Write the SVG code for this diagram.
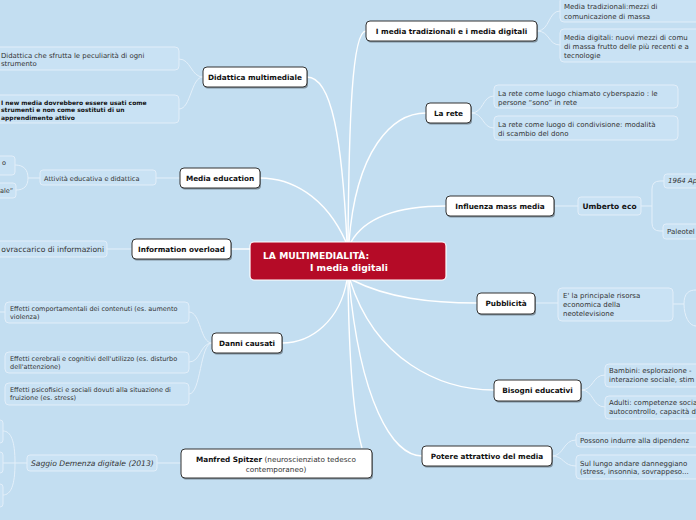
<svg xmlns="http://www.w3.org/2000/svg" width="696" height="520" viewBox="0 0 696 520">
<style>
.bg{fill:#c3def1}
.c{fill:none;stroke:#fff;stroke-width:1.4}
.cs{fill:none;stroke:#e4f0fa;stroke-width:1}
.mn{fill:#fff;stroke:#333;stroke-width:1}
.sh{fill:#000;opacity:.35}
.sb{fill:#c9e2f4;stroke:#e2eef9;stroke-width:1}
.mt{font-family:"DejaVu Sans",Verdana,sans-serif;font-size:7.3px;font-weight:bold;fill:#111;text-anchor:middle}
.st{font-family:"DejaVu Sans",Verdana,sans-serif;font-size:7px;fill:#333}
.sl{font-family:"DejaVu Sans",Verdana,sans-serif;font-size:6.5px;fill:#333}
.sbl{font-family:"DejaVu Sans",Verdana,sans-serif;font-size:6px;font-weight:bold;fill:#111}
.ct{font-family:"DejaVu Sans",Verdana,sans-serif;font-size:9.2px;font-weight:bold;fill:#fff}
</style>
<rect class="bg" x="0" y="0" width="696" height="520"/>
<g id="connectors">
<path class="c" d="M348,242 C349,120 352,31 366,31"/>
<path class="c" d="M349,242 C356,150 392,113 426,113"/>
<path class="c" d="M351,242 C368,212 410,206 446,206"/>
<path class="c" d="M347,242 C342,140 332,77 307,77"/>
<path class="c" d="M346,242 C325,195 290,178 260,178"/>
<path class="c" d="M250,249 L231,249"/>
<path class="c" d="M347,280 C340,320 312,343 282,343"/>
<path class="c" d="M348,280 C349,360 354,420 362,448"/>
<path class="c" d="M349,280 C360,400 392,456 422,456"/>
<path class="c" d="M350,280 C375,360 440,390 494,390"/>
<path class="c" d="M352,280 C388,298 430,303 477,303"/>
<path class="cs" d="M537,31 C550,31 548,11 560,11 M537,31 C550,31 548,45 560,45"/>
<path class="cs" d="M471,113 C484,113 482,96 494,96 M471,113 C484,113 482,128 494,128"/>
<path class="cs" d="M554,206 H578"/>
<path class="cs" d="M641,206 H652 M652,206 V189 Q652,181 660,181 H664 M652,206 V223 Q652,231 660,231 H663"/>
<path class="cs" d="M535,303 H558"/>
<path class="cs" d="M673,304 H684 M684,304 C684,293 689,290 696,290 M684,304 C684,316 689,326 696,326"/>
<path class="cs" d="M581,390 C594,390 592,375 605,375 M581,390 C594,390 592,407 605,407"/>
<path class="cs" d="M552,456 C564,456 563,440 576,440 M552,456 C564,456 563,466 576,466"/>
<path class="cs" d="M181,463 H157"/>
<path class="cs" d="M27,463 H15 M15,463 C15,441 11,431 3,431 M15,463 C15,485 11,495 3,495 M15,463 H3"/>
<path class="cs" d="M212,343 C200,343 201,312 189,312 M212,343 C200,343 201,362 189,362 M212,343 C200,343 201,394 189,394"/>
<path class="cs" d="M5,312 H0"/>
<path class="cs" d="M132,249 H107"/>
<path class="cs" d="M180,178 H156"/>
<path class="cs" d="M40,178 H28 M28,178 C28,170 24,165 15,165 M28,178 C28,186 24,190 16,190"/>
<path class="cs" d="M203,77 C191,77 191,59 179,59 M203,77 C191,77 191,109 179,109"/>
</g>
<g id="center">
<rect x="250" y="242" width="196" height="38" rx="4" fill="#b50b27" stroke="#fff" stroke-width="1.2"/>
<text class="ct" x="263" y="259">LA MULTIMEDIALITÀ:</text>
<text class="ct" x="310" y="271">I media digitali</text>
</g>
<g id="n-media">
<rect class="sh" x="367" y="22.5" width="171" height="20" rx="4"/>
<rect class="mn" x="366" y="21" width="171" height="20" rx="4"/>
<text class="mt" x="451.5" y="34">I media tradizionali e i media digitali</text>
</g>
<g id="n-rete">
<rect class="sh" x="427" y="104.5" width="45" height="20" rx="4"/>
<rect class="mn" x="426" y="103" width="45" height="20" rx="4"/>
<text class="mt" x="448.5" y="116">La rete</text>
</g>
<g id="n-influenza">
<rect class="sh" x="447" y="197.5" width="108" height="20" rx="4"/>
<rect class="mn" x="446" y="196" width="108" height="20" rx="4"/>
<text class="mt" x="500" y="209">Influenza mass media</text>
</g>
<g id="n-pubblicita">
<rect class="sh" x="478" y="294.5" width="58" height="21" rx="4"/>
<rect class="mn" x="477" y="293" width="58" height="21" rx="4"/>
<text class="mt" x="506" y="306">Pubblicità</text>
</g>
<g id="n-bisogni">
<rect class="sh" x="495" y="381.5" width="87" height="21" rx="4"/>
<rect class="mn" x="494" y="380" width="87" height="21" rx="4"/>
<text class="mt" x="537.5" y="393">Bisogni educativi</text>
</g>
<g id="n-potere">
<rect class="sh" x="423" y="447.5" width="130" height="20" rx="4"/>
<rect class="mn" x="422" y="446" width="130" height="20" rx="4"/>
<text class="mt" x="487" y="459">Potere attrattivo del media</text>
</g>
<g id="n-spitzer">
<rect class="sh" x="182" y="450.5" width="191" height="29" rx="4"/>
<rect class="mn" x="181" y="449" width="191" height="29" rx="4"/>
<text class="mt" x="276" y="462"><tspan>Manfred Spitzer</tspan><tspan style="font-weight:normal;fill:#333"> (neuroscienziato tedesco</tspan></text>
<text class="mt" x="276" y="471.5" style="font-weight:normal;fill:#333">contemporaneo)</text>
</g>
<g id="n-danni">
<rect class="sh" x="213" y="334.5" width="70" height="20" rx="4"/>
<rect class="mn" x="212" y="333" width="70" height="20" rx="4"/>
<text class="mt" x="247" y="346">Danni causati</text>
</g>
<g id="n-info">
<rect class="sh" x="133" y="240.5" width="99" height="20" rx="4"/>
<rect class="mn" x="132" y="239" width="99" height="20" rx="4"/>
<text class="mt" x="181.5" y="252">Information overload</text>
</g>
<g id="n-mediaed">
<rect class="sh" x="181" y="169.5" width="80" height="20" rx="4"/>
<rect class="mn" x="180" y="168" width="80" height="20" rx="4"/>
<text class="mt" x="220" y="181">Media education</text>
</g>
<g id="n-didattica">
<rect class="sh" x="204" y="68.5" width="104" height="20" rx="4"/>
<rect class="mn" x="203" y="67" width="104" height="20" rx="4"/>
<text class="mt" x="255" y="80">Didattica multimediale</text>
</g>
<g id="s-media1">
<rect class="sb" x="560" y="-3" width="150" height="25" rx="4"/>
<text class="st" x="564" y="9">Media tradizionali:mezzi di</text>
<text class="st" x="564" y="18.5">comunicazione di massa</text>
</g>
<g id="s-media2">
<rect class="sb" x="560" y="29" width="150" height="33" rx="4"/>
<text class="st" x="564" y="39.5">Media digitali: nuovi mezzi di comu</text>
<text class="st" x="564" y="48.5">di massa frutto delle più recenti e a</text>
<text class="st" x="564" y="57.5">tecnologie</text>
</g>
<g id="s-rete1">
<rect class="sb" x="494" y="85" width="184" height="23" rx="4"/>
<text class="st" x="498" y="95.5">La rete come luogo chiamato cyberspazio : le</text>
<text class="st" x="498" y="105">persone “sono” in rete</text>
</g>
<g id="s-rete2">
<rect class="sb" x="494" y="116" width="184" height="24" rx="4"/>
<text class="st" x="498" y="126.5">La rete come luogo di condivisione: modalità</text>
<text class="st" x="498" y="135.5">di scambio del dono</text>
</g>
<g id="s-eco">
<rect class="sb" x="578" y="197" width="63" height="18" rx="3"/>
<text class="mt" x="609.5" y="209" style="font-size:7.5px">Umberto eco</text>
</g>
<g id="s-1964">
<rect class="sb" x="664" y="174" width="40" height="14" rx="3"/>
<text class="st" x="668" y="183" style="font-style:italic">1964 Ap</text>
</g>
<g id="s-paleo">
<rect class="sb" x="663" y="224" width="40" height="15" rx="3"/>
<text class="st" x="667" y="234">Paleotel</text>
</g>
<g id="s-pubb">
<rect class="sb" x="558" y="288" width="115" height="33" rx="4"/>
<text class="st" x="563" y="298">E' la principale risorsa</text>
<text class="st" x="563" y="307">economica della</text>
<text class="st" x="563" y="316">neotelevisione</text>
</g>
<g id="s-bis1">
<rect class="sb" x="605" y="364" width="100" height="23" rx="4"/>
<text class="st" x="609" y="373">Bambini: esplorazione -</text>
<text class="st" x="609" y="381.5">interazione sociale, stim</text>
</g>
<g id="s-bis2">
<rect class="sb" x="605" y="396" width="100" height="23" rx="4"/>
<text class="st" x="609" y="404.5">Adulti: competenze socia</text>
<text class="st" x="609" y="413.5">autocontrollo, capacità d</text>
</g>
<g id="s-pot1">
<rect class="sb" x="576" y="433" width="130" height="14" rx="4"/>
<text class="st" x="580" y="443">Possono indurre alla dipendenz</text>
</g>
<g id="s-pot2">
<rect class="sb" x="576" y="455" width="130" height="24" rx="4"/>
<text class="st" x="580" y="465.5">Sul lungo andare danneggiano</text>
<text class="st" x="580" y="474">(stress, insonnia, sovrappeso...</text>
</g>
<g id="s-did1">
<rect class="sb" x="-5" y="47" width="184" height="23" rx="4"/>
<text class="sl" x="1" y="58" style="font-size:6.9px">Didattica che sfrutta le peculiarità di ogni</text>
<text class="sl" x="1" y="66" style="font-size:6.9px">strumento</text>
</g>
<g id="s-did2">
<rect class="sb" x="-5" y="95" width="184" height="28" rx="4"/>
<text class="sbl" x="1" y="104.5">I new media dovrebbero essere usati come</text>
<text class="sbl" x="1" y="112">strumenti e non come sostituti di un</text>
<text class="sbl" x="1" y="119.5">apprendimento attivo</text>
</g>
<g id="s-attivita">
<rect class="sb" x="40" y="170" width="116" height="15" rx="3"/>
<text class="st" x="44" y="181" style="font-size:6.6px">Attività educativa e didattica</text>
</g>
<g id="s-left1">
<rect class="sb" x="-5" y="156" width="20" height="19" rx="3"/>
<text class="sl" x="2" y="165">o</text>
</g>
<g id="s-left2">
<rect class="sb" x="-5" y="183" width="21" height="15" rx="3"/>
<text class="sl" x="0" y="193">ale”</text>
</g>
<g id="s-sovra">
<rect class="sb" x="-5" y="241" width="112" height="16" rx="3"/>
<text class="st" x="104" y="252" style="font-size:7.6px;text-anchor:end">ovraccarico di informazioni</text>
</g>
<g id="s-eff1">
<rect class="sb" x="5" y="302" width="184" height="21" rx="4"/>
<text class="sl" x="10" y="310.5">Effetti comportamentali dei contenuti (es. aumento</text>
<text class="sl" x="10" y="319">violenza)</text>
</g>
<g id="s-eff2">
<rect class="sb" x="5" y="352" width="184" height="21" rx="4"/>
<text class="sl" x="10" y="360.5">Effetti cerebrali e cognitivi dell'utilizzo (es. disturbo</text>
<text class="sl" x="10" y="369">dell'attenzione)</text>
</g>
<g id="s-eff3">
<rect class="sb" x="5" y="383" width="184" height="22" rx="4"/>
<text class="sl" x="10" y="391.5">Effetti psicofisici e sociali dovuti alla situazione di</text>
<text class="sl" x="10" y="400">fruizione (es. stress)</text>
</g>
<g id="s-saggio">
<rect class="sb" x="27" y="455" width="130" height="16" rx="3"/>
<text class="st" x="31" y="466" style="font-style:italic;font-size:7.6px">Saggio Demenza digitale (2013)</text>
</g>
<g id="s-sag1"><rect class="sb" x="-5" y="420" width="8" height="23" rx="3"/></g>
<g id="s-sag2"><rect class="sb" x="-5" y="452" width="8" height="21" rx="3"/></g>
<g id="s-sag3"><rect class="sb" x="-5" y="484" width="8" height="23" rx="3"/></g>
</svg>
